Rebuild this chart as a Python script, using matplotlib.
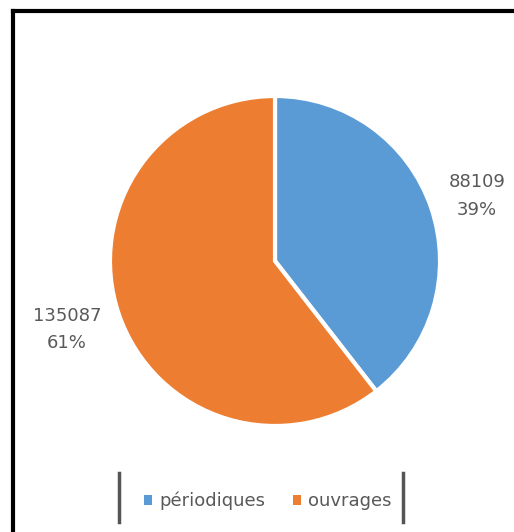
import numpy as np
import matplotlib.pyplot as plt
from matplotlib.lines import Line2D
from matplotlib.patches import Patch

# data
categories = ["périodiques", "ouvrages"]
values = [88109, 135087]
colors = ["#5B9BD5", "#ED7D31"]

W, H = 514, 532
fig = plt.figure(figsize=(W / 100, H / 100), dpi=100)
ax = fig.add_axes([0, 0, 1, 1])
ax.axis("off")

# pie, clockwise from the top
wedges, _ = ax.pie(values, colors=colors, startangle=90, counterclock=False,
                   center=(275, H - 261), radius=165, explode=[0.025, 0],
                   wedgeprops=dict(edgecolor="white", linewidth=3))
ax.set_xlim(0, W)
ax.set_ylim(0, H)
ax.set_aspect("equal")

total = sum(values)
pcts = [round(v / total * 100) for v in values]
# (x, y of value line, y of percent line) in pixels from top
label_pos = [(477, 182, 210), (67, 316, 343)]
for v, p, (x, y1, y2) in zip(values, pcts, label_pos):
    ax.text(x, H - y1, f"{v}", ha="center", va="center", fontsize=13, color="#595959")
    ax.text(x, H - y2, f"{p}%", ha="center", va="center", fontsize=13, color="#595959")

# legend
handles = [Patch(facecolor=c, edgecolor="none") for c in colors]
leg = fig.legend(handles, categories, loc="center", bbox_to_anchor=(268 / W, 1 - 501 / H),
                 ncol=2, frameon=False, fontsize=13, handlelength=0.45, handleheight=0.45,
                 columnspacing=1.5, handletextpad=0.4, labelcolor="#595959")

# legend side bars
for x in (119, 403):
    fig.add_artist(Line2D([x / W, x / W], [1 - 473 / H, 1 - 522 / H],
                          color="#555555", linewidth=2.5))

# outer border (left and top)
fig.add_artist(Line2D([13 / W, 13 / W], [0, 1 - 11 / H], color="black", linewidth=3))
fig.add_artist(Line2D([13 / W, 1], [1 - 11 / H, 1 - 11 / H], color="black", linewidth=3))

fig.savefig("out.png", dpi=100)
